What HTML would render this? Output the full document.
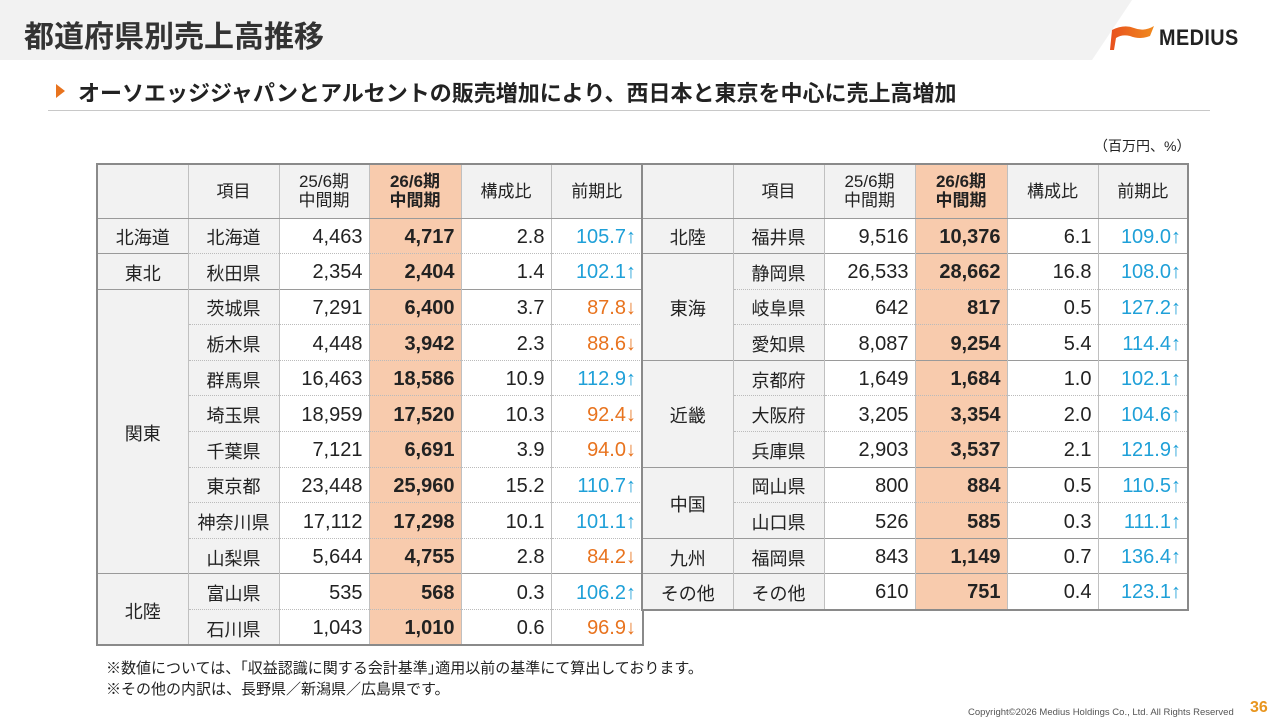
<!DOCTYPE html>
<html><head><meta charset="utf-8"><style>
*{margin:0;padding:0;box-sizing:border-box}
body{width:1280px;height:720px;position:relative;background:#fff;font-family:"Liberation Sans","Noto Sans CJK JP",sans-serif;color:#222;overflow:hidden}
.hdr{position:absolute;left:0;top:0;width:1280px;height:60px;background:#f2f2f2;clip-path:polygon(0 0,1132px 0,1092px 60px,0 60px)}
.title{position:absolute;left:24px;top:12px;font-size:30px;font-weight:bold;color:#333;letter-spacing:0}
.logo{position:absolute;left:1110px;top:24px}
.logot{position:absolute;left:1159px;top:25px;font-size:22px;font-weight:bold;color:#222;letter-spacing:0.5px;transform:scaleX(0.9);transform-origin:left}
.sub{position:absolute;left:78px;top:76px;font-size:22px;font-weight:bold;color:#222}
.tri{position:absolute;left:56px;top:84px;width:0;height:0;border-left:9px solid #e8731e;border-top:7px solid transparent;border-bottom:7px solid transparent}
.line{position:absolute;left:48px;top:110px;width:1162px;height:1px;background:#c8c8c8}
.unit{position:absolute;left:1094px;top:136px;font-size:14px}
table{position:absolute;border-collapse:collapse;table-layout:fixed;font-size:20px;border:2px solid #8a8a8a}
td{height:35.6px;border-left:1px solid #c0c0c0;border-right:1px solid #c0c0c0;border-top:1px dotted #bbb;padding:3px 6px 0 6px;white-space:nowrap;vertical-align:middle}
td.g{background:#f2f2f2;text-align:center;font-size:18px}
td.n{text-align:right}
td.h{background:#f8cbad;font-weight:bold;text-align:right}
td.u{color:#1fa0d8;text-align:right}
td.d{color:#e8731e;text-align:right}
tr.s td{border-top:1.5px solid #9a9a9a}
tr.hd td{height:54px;background:#f2f2f2;text-align:center;font-size:17px;line-height:19px;border-bottom:1.5px solid #9a9a9a;padding-top:0}
tr.hd td.b{font-weight:bold}
td.r{border-top:1.5px solid #9a9a9a}
.note{position:absolute;left:106px;font-size:15px}
.copy{position:absolute;left:968px;top:707px;font-size:9.5px;color:#555}
.pg{position:absolute;left:1250px;top:699px;font-size:16px;font-weight:bold;color:#e8951e}
</style></head><body>
<div class="hdr"></div>
<div class="title">都道府県別売上高推移</div>
<svg class="logo" width="46" height="26" viewBox="0 0 46 26"><defs><linearGradient id="lg" x1="0" x2="1"><stop offset="0" stop-color="#e8501e"/><stop offset="1" stop-color="#f08a1e"/></linearGradient></defs><path d="M2 6 Q14 0 24 4 Q34 8 44 2 L40 12 Q30 16 20 12 Q12 10 6 14 L4 26 L0 26 Z" fill="url(#lg)"/></svg>
<div class="logot">MEDIUS</div>
<div class="tri"></div>
<div class="sub">オーソエッジジャパンとアルセントの販売増加により、西日本と東京を中心に売上高増加</div>
<div class="line"></div>
<div class="unit">（百万円、%）</div>

<table style="left:96px;top:163px;width:546px">
<colgroup><col style="width:91px"><col style="width:91px"><col style="width:90px"><col style="width:92px"><col style="width:90px"><col style="width:92px"></colgroup>
<tr class="hd"><td></td><td>項目</td><td>25/6期<br>中間期</td><td class="b" style="background:#f8cbad">26/6期<br>中間期</td><td>構成比</td><td>前期比</td></tr>
<tr class="s"><td class="g">北海道</td><td class="g">北海道</td><td class="n">4,463</td><td class="h">4,717</td><td class="n">2.8</td><td class="u">105.7↑</td></tr>
<tr class=""><td class="g r">東北</td><td class="g">秋田県</td><td class="n">2,354</td><td class="h">2,404</td><td class="n">1.4</td><td class="u">102.1↑</td></tr>
<tr class="s"><td class="g" rowspan="8">関東</td><td class="g">茨城県</td><td class="n">7,291</td><td class="h">6,400</td><td class="n">3.7</td><td class="d">87.8↓</td></tr>
<tr><td class="g">栃木県</td><td class="n">4,448</td><td class="h">3,942</td><td class="n">2.3</td><td class="d">88.6↓</td></tr>
<tr><td class="g">群馬県</td><td class="n">16,463</td><td class="h">18,586</td><td class="n">10.9</td><td class="u">112.9↑</td></tr>
<tr><td class="g">埼玉県</td><td class="n">18,959</td><td class="h">17,520</td><td class="n">10.3</td><td class="d">92.4↓</td></tr>
<tr><td class="g">千葉県</td><td class="n">7,121</td><td class="h">6,691</td><td class="n">3.9</td><td class="d">94.0↓</td></tr>
<tr><td class="g">東京都</td><td class="n">23,448</td><td class="h">25,960</td><td class="n">15.2</td><td class="u">110.7↑</td></tr>
<tr><td class="g">神奈川県</td><td class="n">17,112</td><td class="h">17,298</td><td class="n">10.1</td><td class="u">101.1↑</td></tr>
<tr><td class="g">山梨県</td><td class="n">5,644</td><td class="h">4,755</td><td class="n">2.8</td><td class="d">84.2↓</td></tr>
<tr class="s"><td class="g" rowspan="2">北陸</td><td class="g">富山県</td><td class="n">535</td><td class="h">568</td><td class="n">0.3</td><td class="u">106.2↑</td></tr>
<tr><td class="g">石川県</td><td class="n">1,043</td><td class="h">1,010</td><td class="n">0.6</td><td class="d">96.9↓</td></tr>
</table>

<table style="left:641px;top:163px;width:546px">
<colgroup><col style="width:91px"><col style="width:91px"><col style="width:91px"><col style="width:92px"><col style="width:91px"><col style="width:90px"></colgroup>
<tr class="hd"><td></td><td>項目</td><td>25/6期<br>中間期</td><td class="b" style="background:#f8cbad">26/6期<br>中間期</td><td>構成比</td><td>前期比</td></tr>
<tr class="s"><td class="g">北陸</td><td class="g">福井県</td><td class="n">9,516</td><td class="h">10,376</td><td class="n">6.1</td><td class="u">109.0↑</td></tr>
<tr class="s"><td class="g" rowspan="3">東海</td><td class="g">静岡県</td><td class="n">26,533</td><td class="h">28,662</td><td class="n">16.8</td><td class="u">108.0↑</td></tr>
<tr><td class="g">岐阜県</td><td class="n">642</td><td class="h">817</td><td class="n">0.5</td><td class="u">127.2↑</td></tr>
<tr><td class="g">愛知県</td><td class="n">8,087</td><td class="h">9,254</td><td class="n">5.4</td><td class="u">114.4↑</td></tr>
<tr class="s"><td class="g" rowspan="3">近畿</td><td class="g">京都府</td><td class="n">1,649</td><td class="h">1,684</td><td class="n">1.0</td><td class="u">102.1↑</td></tr>
<tr><td class="g">大阪府</td><td class="n">3,205</td><td class="h">3,354</td><td class="n">2.0</td><td class="u">104.6↑</td></tr>
<tr><td class="g">兵庫県</td><td class="n">2,903</td><td class="h">3,537</td><td class="n">2.1</td><td class="u">121.9↑</td></tr>
<tr class="s"><td class="g" rowspan="2">中国</td><td class="g">岡山県</td><td class="n">800</td><td class="h">884</td><td class="n">0.5</td><td class="u">110.5↑</td></tr>
<tr><td class="g">山口県</td><td class="n">526</td><td class="h">585</td><td class="n">0.3</td><td class="u">111.1↑</td></tr>
<tr class="s"><td class="g">九州</td><td class="g">福岡県</td><td class="n">843</td><td class="h">1,149</td><td class="n">0.7</td><td class="u">136.4↑</td></tr>
<tr class="s"><td class="g">その他</td><td class="g">その他</td><td class="n">610</td><td class="h">751</td><td class="n">0.4</td><td class="u">123.1↑</td></tr>
</table>

<div class="note" style="top:657px">※数値については、｢収益認識に関する会計基準｣適用以前の基準にて算出しております。</div>
<div class="note" style="top:678px">※その他の内訳は、長野県／新潟県／広島県です。</div>
<div class="copy">Copyright©2026 Medius Holdings Co., Ltd. All Rights Reserved</div>
<div class="pg">36</div>
</body></html>
